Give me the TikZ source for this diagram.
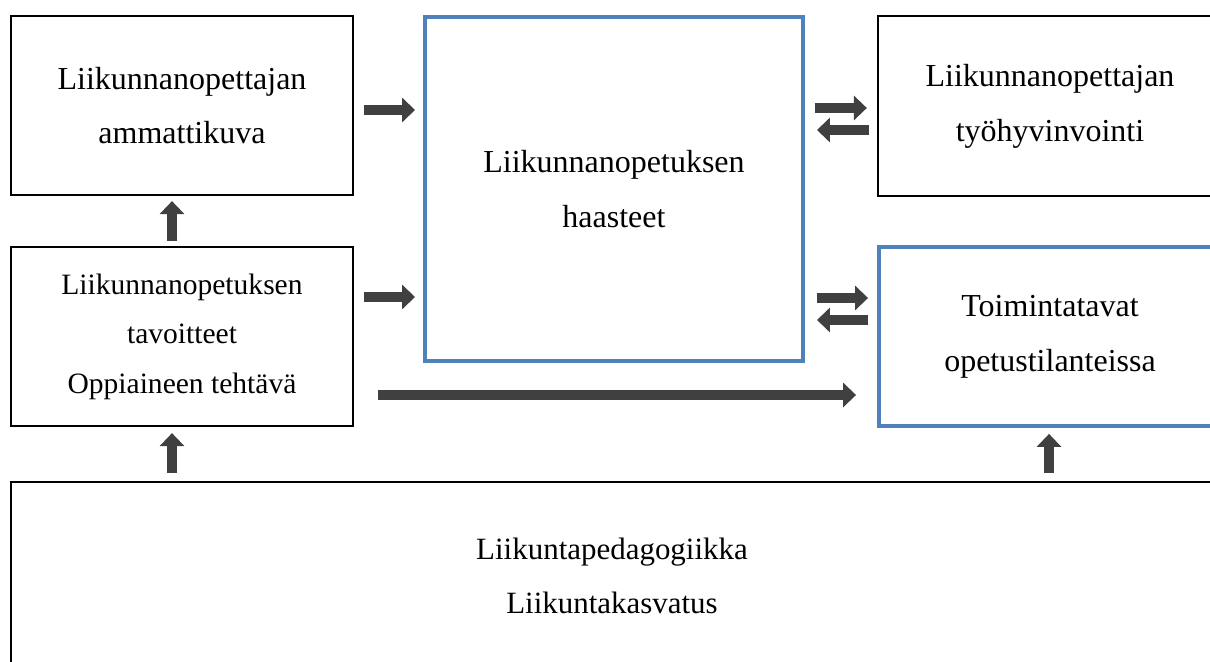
\documentclass[tikz,border=0pt]{standalone}
\usepackage{fontspec}
\setmainfont{Liberation Serif}
\usetikzlibrary{arrows.meta,calc}
\definecolor{boxblue}{HTML}{4F81BD}
\definecolor{arrowgray}{HTML}{404040}
\tikzset{
  x=0.01cm, y=-0.01cm,
  blackbox/.style={draw=black, line width=0.6pt, align=center, inner sep=0pt,
    font=\fontsize{9.1pt}{15.6pt}\selectfont},
  bluebox/.style={draw=boxblue, line width=1.05pt, align=center, inner sep=0pt,
    font=\fontsize{9.1pt}{15.6pt}\selectfont},
  blk/.style={draw=arrowgray, line width=0.1cm, -{Triangle[width=0.24cm,length=0.13cm]}}
}
\begin{document}
\begin{tikzpicture}
\useasboundingbox (0,0) rectangle (1210,661);
\clip (0,0) rectangle (1210,661);
\fill[white] (0,0) rectangle (1210,661);

\node[blackbox, minimum width=3.42cm, minimum height=1.79cm] (A) at (182,105.5)
  {Liikunnanopettajan\\ammattikuva};
\node[bluebox, minimum width=3.78cm, minimum height=3.44cm] (B) at (614,189)
  {Liikunnanopetuksen\\haasteet};
\node[blackbox, minimum width=3.44cm, minimum height=1.80cm] (C) at (1050,106)
  {Liikunnanopettajan\\työhyvinvointi};
\node[blackbox, minimum width=3.42cm, minimum height=1.79cm,
  font=\fontsize{8.4pt}{14.1pt}\selectfont] (D) at (182,336.5)
  {Liikunnanopetuksen\\tavoitteet\\Oppiaineen tehtävä};
\node[bluebox, minimum width=3.42cm, minimum height=1.79cm] (E) at (1050,336.5)
  {Toimintatavat\\opetustilanteissa};
\node[blackbox, minimum width=12.02cm, minimum height=1.88cm,
  font=\fontsize{8.8pt}{15.3pt}\selectfont] (F) at (612,576)
  {Liikuntapedagogiikka\\Liikuntakasvatus};

% horizontal arrows
\draw[blk] ($(A.east)+(10,4.5)$) -- ($(B.west)+(-8,-79)$);
\draw[blk] ($(D.east)+(10,-39.5)$) -- ($(B.west)+(-8,108)$);
\draw[blk] ($(B.east)+(10,-81)$) -- ($(C.west)+(-10,2)$);
\draw[blk] ($(C.west)+(-8,24)$) -- ($(B.east)+(12,-59)$);
\draw[blk] ($(B.east)+(12,109)$) -- ($(E.west)+(-9,-38.5)$);
\draw[blk] ($(E.west)+(-9,-16.5)$) -- ($(B.east)+(12,131)$);
\draw[blk] ($(D.east)+(24,58.5)$) -- ($(E.west)+(-21,58.5)$);
% vertical arrows
\draw[blk] ($(D.north)+(-10,-5)$) -- ($(A.south)+(-10,5)$);
\draw[blk] ($(F.north)+(-440,-8)$) -- ($(D.south)+(-10,6)$);
\draw[blk] ($(F.north)+(437,-8)$) -- ($(E.south)+(-1,6)$);
\end{tikzpicture}
\end{document}
